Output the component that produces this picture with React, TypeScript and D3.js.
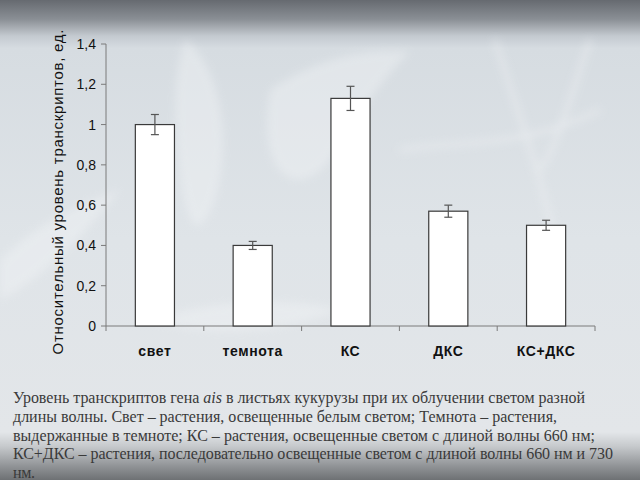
import React from "react";
import * as d3 from "d3";

const categories = ["свет", "темнота", "КС", "ДКС", "КС+ДКС"];
const values = [1.0, 0.4, 1.13, 0.57, 0.5];
const errors = [0.05, 0.02, 0.06, 0.03, 0.025];
const yTicks = [0, 0.2, 0.4, 0.6, 0.8, 1.0, 1.2, 1.4];
const yTickLabels = ["0", "0,2", "0,4", "0,6", "0,8", "1", "1,2", "1,4"];
const yTitle = "Относительный уровень транскриптов, ед.";
const captionLines = [
  ["Уровень транскриптов гена ", "ais", " в листьях кукурузы при их облучении светом разной"],
  ["длины волны.  Свет – растения, освещенные белым светом; Темнота – растения,"],
  ["выдержанные в темноте; КС – растения, освещенные светом с длиной волны 660 нм;"],
  ["КС+ДКС – растения, последовательно освещенные светом с длиной волны 660 нм и 730"],
  ["нм."],
];
const captionWidths = [572, 544, 582, 600, 22];

export default function App() {
  const W = 640, H = 480;
  const x = d3.scaleBand<string>().domain(categories).range([106, 595]).padding(0);
  const y = d3.scaleLinear().domain([0, 1.4]).range([326, 44]);
  const bw = x.bandwidth();
  const barW = bw * 0.4;
  const boundaries = d3.range(categories.length + 1).map((i) => 106 + i * bw);

  return (
    <svg width={W} height={H} style={{ position: "fixed", left: 0, top: 0 }}>
      <defs>
        <linearGradient id="bg" x1="0" y1="0" x2="0" y2="1">
          <stop offset="0" stopColor="#666a70" />
          <stop offset="0.04" stopColor="#8a8f95" />
          <stop offset="0.075" stopColor="#c4cad0" />
          <stop offset="0.1" stopColor="#d6dce1" />
          <stop offset="0.5" stopColor="#dfe4e8" />
          <stop offset="0.9" stopColor="#e3e6e9" />
          <stop offset="0.93" stopColor="#c6c9cc" />
          <stop offset="0.97" stopColor="#929598" />
          <stop offset="1" stopColor="#6e7174" />
        </linearGradient>
        <filter id="blur"><feGaussianBlur stdDeviation="4" /></filter>
      </defs>
      <rect width={W} height={H} fill="url(#bg)" />
      <g filter="url(#blur)" opacity={0.4} fill="#f3f5f7">
        <path d="M185,40 C215,60 235,130 215,200 C200,240 190,230 182,190 C175,140 170,80 185,40 Z" />
        <path d="M270,90 C330,50 380,50 410,52 C390,70 360,110 330,160 C300,200 255,180 270,90 Z" />
        <path d="M0,260 C40,220 90,200 120,190 C80,240 40,280 0,300 Z" />
        <path d="M150,320 C230,295 300,300 340,310 C290,330 220,340 150,320 Z" />
      </g>
      <g stroke="#f0f2f4" strokeWidth={4} opacity={0.6} fill="none" filter="url(#blur)">
        <path d="M495,40 C520,120 540,170 560,260" />
        <path d="M590,40 C570,100 555,150 540,170" />
        <path d="M400,150 C460,140 520,150 600,110" />
      </g>

      {/* y axis */}
      <line x1={106} x2={106} y1={y(1.4)} y2={y(0)} stroke="#7a7a7a" strokeWidth={1} />
      {yTicks.map((t, i) => (
        <g key={i}>
          <line x1={101} x2={106} y1={y(t)} y2={y(t)} stroke="#7a7a7a" />
          <text x={96} y={y(t)} dy="0.36em" textAnchor="end" fontFamily="Liberation Sans, Arial, sans-serif" fontSize={14} fill="#111">
            {yTickLabels[i]}
          </text>
        </g>
      ))}
      {/* x axis */}
      <line x1={106} x2={595} y1={y(0)} y2={y(0)} stroke="#7a7a7a" strokeWidth={1} />
      {boundaries.map((b, i) => (
        <line key={i} x1={b} x2={b} y1={y(0)} y2={y(0) + 5} stroke="#7a7a7a" />
      ))}

      {/* bars */}
      {categories.map((c, i) => {
        const cx = (x(c) as number) + bw / 2;
        return (
          <g key={c}>
            <rect x={cx - barW / 2} y={y(values[i])} width={barW} height={y(0) - y(values[i])} fill="#ffffff" stroke="#3a3a3a" strokeWidth={1.2} />
            <line x1={cx} x2={cx} y1={y(values[i] + errors[i])} y2={y(values[i] - errors[i])} stroke="#555" strokeWidth={1.2} />
            <line x1={cx - 4} x2={cx + 4} y1={y(values[i] + errors[i])} y2={y(values[i] + errors[i])} stroke="#555" strokeWidth={1.2} />
            <line x1={cx - 4} x2={cx + 4} y1={y(values[i] - errors[i])} y2={y(values[i] - errors[i])} stroke="#555" strokeWidth={1.2} />
            <text x={cx} y={356} textAnchor="middle" fontFamily="Liberation Sans, Arial, sans-serif" fontSize={14} fontWeight="bold" letterSpacing={0.6} fill="#111">
              {c}
            </text>
          </g>
        );
      })}

      {/* y title */}
      <text transform="translate(63,192) rotate(-90)" textAnchor="middle" fontFamily="Liberation Sans, Arial, sans-serif" fontSize={15} fill="#111" textLength={325} lengthAdjust="spacing">
        {yTitle}
      </text>

      {/* caption */}
      {captionLines.map((parts, i) => (
        <text key={i} x={13} y={403 + i * 18.8} fontFamily="Liberation Serif, Times New Roman, serif" fontSize={16} fill="#3a3a3a" textLength={captionWidths[i]} lengthAdjust="spacing">
          {parts.map((p, j) => (
            <tspan key={j} fontStyle={p === "ais" ? "italic" : "normal"}>{p}</tspan>
          ))}
        </text>
      ))}
    </svg>
  );
}
